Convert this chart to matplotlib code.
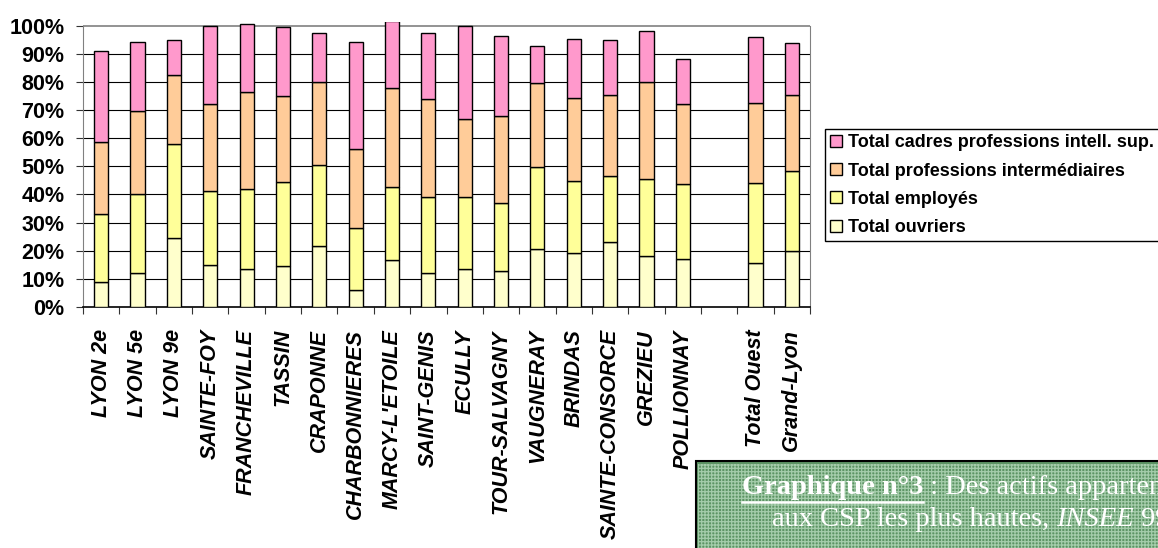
import matplotlib.pyplot as plt
import matplotlib.patches as mpatches
from matplotlib.lines import Line2D
import numpy as np

# Répartition des actifs par CSP (%), communes de l'Ouest lyonnais
communes = ['LYON 2e', 'LYON 5e', 'LYON 9e', 'SAINTE-FOY', 'FRANCHEVILLE', 'TASSIN',
            'CRAPONNE', 'CHARBONNIERES', "MARCY-L'ETOILE", 'SAINT-GENIS', 'ECULLY',
            'TOUR-SALVAGNY', 'VAUGNERAY', 'BRINDAS', 'SAINTE-CONSORCE', 'GREZIEU',
            'POLLIONNAY']
totaux = ['Total Ouest', 'Grand-Lyon']

ouvriers = [8.8, 12.0, 24.5, 14.8, 13.5, 14.6, 21.7, 6.2, 16.7, 12.2, 13.6, 12.8,
            20.6, 19.3, 23.1, 18.2, 16.9, 15.6, 20.0]
employes = [24.3, 28.3, 33.3, 26.4, 28.4, 29.8, 28.9, 21.9, 26.1, 27.0, 25.4, 24.0,
            29.3, 25.5, 23.6, 27.2, 26.7, 28.4, 28.3]
intermediaires = [25.5, 29.4, 24.5, 30.8, 34.5, 30.5, 29.4, 27.9, 35.0, 34.6, 27.7, 31.0,
                  29.7, 29.5, 28.8, 34.6, 28.6, 28.5, 27.2]
cadres = [32.5, 24.5, 12.7, 28.0, 24.1, 24.7, 17.3, 38.3, 23.7, 23.6, 33.1, 28.5,
          13.3, 21.1, 19.4, 18.1, 15.8, 23.6, 18.3]

series = [
    ('Total ouvriers', ouvriers, '#FFFFCC'),
    ('Total employés', employes, '#FFFF99'),
    ('Total professions intermédiaires', intermediaires, '#FFCC99'),
    ('Total cadres professions intell. sup.', cadres, '#FF99CC'),
]

# une case vide entre les communes et les totaux
noms = communes + totaux
pos = np.r_[np.arange(len(communes)), np.arange(len(totaux)) + len(communes) + 1]
nb_cases = len(communes) + 1 + len(totaux)

fig = plt.figure(figsize=(11.58, 5.48), dpi=100)
ax = fig.add_axes([0.0717, 0.4398, 0.6278, 0.5201])

bas = np.zeros(len(noms))
handles = []
for label, vals, col in series:
    b = ax.bar(pos, vals, width=0.39, bottom=bas, color=col, edgecolor='black',
               linewidth=1.0, label=label, zorder=3)
    handles.append(b)
    bas += np.array(vals)

ax.set_xlim(-0.5, nb_cases - 0.5)
ax.set_ylim(0, 101.3)

# quadrillage
for v in range(10, 100, 10):
    ax.axhline(v, color='black', lw=0.8, zorder=1)
ax.axhline(100, color='#808080', lw=1.2, zorder=1)

ax.spines['top'].set_visible(False)
ax.spines['left'].set_color('#808080')
ax.spines['left'].set_bounds(0, 100)
ax.spines['right'].set_color('#808080')
ax.spines['right'].set_bounds(0, 100)
ax.spines['bottom'].set_linewidth(1.2)

ax.set_yticks(range(0, 101, 10))
ax.set_yticklabels([f'{v}%' for v in range(0, 101, 10)],
                   fontfamily='Liberation Sans', fontweight='bold', fontsize=15.5)
ax.tick_params(axis='y', length=5, width=0.8, pad=8.5, color='#333333')

ax.set_xticks(np.arange(-0.5, nb_cases, 1.0), minor=True)
ax.tick_params(axis='x', which='minor', length=5, width=0.8, color='#333333')
ax.set_xticks(pos)
ax.set_xticklabels(noms, rotation=90, va='top', ha='center',
                   fontfamily='Liberation Sans', fontweight='bold', fontstyle='italic',
                   fontsize=15.5)
ax.tick_params(axis='x', which='major', length=0, pad=16)

leg = fig.legend(handles[::-1], [s[0] for s in series][::-1],
                 loc='upper left', bbox_to_anchor=(825 / 1158, 1 - 129 / 548),
                 prop={'family': 'Liberation Sans', 'weight': 'bold', 'size': 13},
                 frameon=True, fancybox=False, edgecolor='black', framealpha=1,
                 handlelength=0.65, handleheight=0.65, handletextpad=0.3,
                 labelspacing=0.62, borderpad=0.3, borderaxespad=0)
leg.get_frame().set_linewidth(1.0)

# encadré du titre (fond vert quadrillé)
x0, y1 = 696 / 1158, 1 - 461 / 548
fig.patches.append(mpatches.Rectangle((x0, -0.05), 0.5, y1 + 0.05, transform=fig.transFigure,
                                      facecolor='#5c9464', edgecolor='black', lw=1.5,
                                      zorder=0))
plt.rcParams['hatch.linewidth'] = 0.9
fig.patches.append(mpatches.Rectangle((x0 + 0.002, -0.05), 0.5, y1 + 0.045,
                                      transform=fig.transFigure, facecolor='none',
                                      edgecolor='#a4ccaa', hatch='+' * 5, lw=0, zorder=0))

renderer = fig.canvas.get_renderer()


def ligne(x, y, morceaux):
    # écrit des morceaux de texte bout à bout sur une même ligne de base
    sortie = []
    for txt, style in morceaux:
        t = fig.text(x, y, txt, color='white', fontsize=20.5, fontfamily='Liberation Serif',
                     va='baseline', ha='left', **style)
        bb = t.get_window_extent(renderer)
        sortie.append((t, bb))
        x = bb.x1 / fig.bbox.width
    return sortie


morceaux = ligne(742 / 1158, 1 - 494 / 548,
                 [('Graphique n°3', {'fontweight': 'bold'}),
                  (' : Des actifs appartenant', {})])
t, bb = morceaux[0]
yl = 1 - 502 / 548
fig.lines.append(Line2D([bb.x0 / fig.bbox.width, bb.x1 / fig.bbox.width], [yl, yl],
                        transform=fig.transFigure, color='white', lw=1.8))

ligne(772 / 1158, 1 - 526 / 548,
      [('aux CSP les plus hautes, ', {}), ('INSEE', {'fontstyle': 'italic'}), (' 99', {})])

fig.savefig('out.png', dpi=100)
